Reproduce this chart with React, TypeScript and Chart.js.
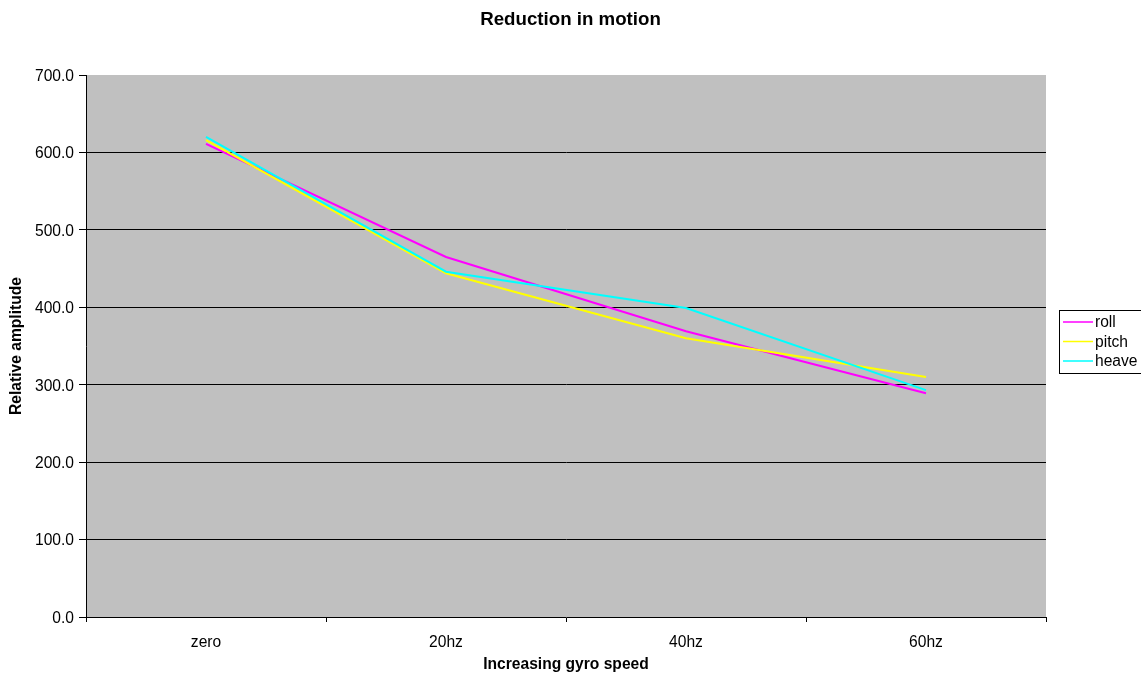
import React, { useEffect, useRef } from "react";
import { Chart, registerables } from "chart.js";

Chart.register(...registerables);

const categories = ["zero", "20hz", "40hz", "60hz"];
const roll = [611, 465, 369, 289];
const pitch = [616, 444, 360, 310];
const heave = [620, 446, 399, 293];
const seriesNames = ["roll", "pitch", "heave"];
const seriesColors = ["#FF00FF", "#FFFF00", "#00FFFF"];

const titleText = "Reduction in motion";
const xTitle = "Increasing gyro speed";
const yTitle = "Relative amplitude";

const FONT = '"Liberation Sans", Arial, sans-serif';

export default function App() {
  const ref = useRef<HTMLCanvasElement | null>(null);

  useEffect(() => {
    document.body.style.margin = "0";
    const canvas = ref.current;
    if (!canvas) return;

    const decor = {
      id: "decor",
      beforeDraw(chart: any) {
        const { ctx, chartArea } = chart;
        ctx.save();
        ctx.fillStyle = "#ffffff";
        ctx.fillRect(0, 0, chart.width, chart.height);
        ctx.fillStyle = "#C0C0C0";
        ctx.fillRect(chartArea.left, chartArea.top, chartArea.right - chartArea.left, chartArea.bottom - chartArea.top);
        ctx.restore();
      },
      afterDraw(chart: any) {
        const { ctx, chartArea } = chart;
        ctx.save();
        ctx.fillStyle = "#000";
        ctx.textAlign = "center";
        ctx.textBaseline = "middle";
        ctx.font = `bold 18.7px ${FONT}`;
        ctx.fillText(titleText, chart.width / 2, 20);
        ctx.font = `bold 15.6px ${FONT}`;
        ctx.fillText(xTitle, (chartArea.left + chartArea.right) / 2, 665);
        ctx.save();
        ctx.translate(17, (chartArea.top + chartArea.bottom) / 2);
        ctx.rotate(-Math.PI / 2);
        ctx.fillText(yTitle, 0, 0);
        ctx.restore();

        // legend
        const lx = 1059.5, ly = 310.5;
        ctx.strokeStyle = "#000";
        ctx.lineWidth = 1;
        ctx.strokeRect(lx, ly, 100, 63);
        ctx.font = `15.6px ${FONT}`;
        ctx.textAlign = "left";
        seriesNames.forEach((name, i) => {
          const y = 322 + i * 19.5;
          ctx.strokeStyle = seriesColors[i];
          ctx.lineWidth = 1.5;
          ctx.beginPath();
          ctx.moveTo(1063, y);
          ctx.lineTo(1093, y);
          ctx.stroke();
          ctx.fillStyle = "#000";
          ctx.fillText(name, 1095, y + 1);
        });
        ctx.restore();
      },
    };

    const chart = new Chart(canvas, {
      type: "line",
      data: {
        labels: categories,
        datasets: [
          { label: seriesNames[0], data: roll, borderColor: seriesColors[0], borderWidth: 2, pointRadius: 0, tension: 0, order: 2 },
          { label: seriesNames[1], data: pitch, borderColor: seriesColors[1], borderWidth: 2, pointRadius: 0, tension: 0, order: 1 },
          { label: seriesNames[2], data: heave, borderColor: seriesColors[2], borderWidth: 2, pointRadius: 0, tension: 0, order: 0 },
        ],
      },
      options: {
        responsive: false,
        animation: false,
        devicePixelRatio: 1,
        layout: { padding: { top: 75, right: 95, left: 0, bottom: 0 } },
        plugins: { legend: { display: false }, title: { display: false }, tooltip: { enabled: false } },
        scales: {
          x: {
            type: "category",
            offset: true,
            grid: { offset: true, drawOnChartArea: false, drawTicks: true, tickLength: 5, tickColor: "#000" },
            border: { display: true, color: "#000", width: 1 },
            ticks: { color: "#000", font: { family: FONT, size: 15.6 }, padding: 11, maxRotation: 0 },
            afterFit: (s: any) => { s.height = 59; },
          },
          y: {
            min: 0,
            max: 700,
            grid: {
              color: (c: any) => (c.tick && (c.tick.value === 700 || c.tick.value === 0) ? "rgba(0,0,0,0)" : "#000"),
              tickColor: "#000",
              tickLength: 7,
              lineWidth: 1,
            },
            border: { display: true, color: "#000", width: 1 },
            ticks: {
              stepSize: 100,
              color: "#000",
              font: { family: FONT, size: 15.6 },
              padding: 5,
              labelOffset: 1.5,
              callback: (v: any) => Number(v).toFixed(1),
            },
            afterFit: (s: any) => { s.width = 86; },
          },
        },
      },
      plugins: [decor],
    } as any);

    return () => chart.destroy();
  }, []);

  return (
    <div style={{ width: 1141, height: 676 }}>
      <canvas ref={ref} width={1141} height={676} />
    </div>
  );
}
